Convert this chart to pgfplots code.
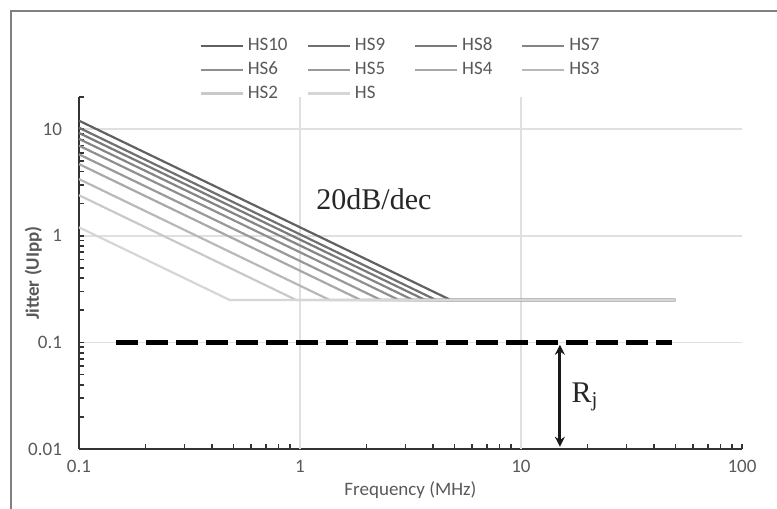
\documentclass[border=0pt]{standalone}
\usepackage{fontspec}
\setmainfont{Carlito}
\newfontfamily\seriffont{Liberation Serif}
\usepackage{pgfplots}
\pgfplotsset{compat=1.18}
\usetikzlibrary{arrows.meta}
\definecolor{labelgray}{RGB}{89,89,89}
\newcommand{\lent}[1]{\makebox[22pt][l]{#1}}
\begin{document}
\begin{tikzpicture}[font=\fontsize{9.5}{11}\selectfont]
\useasboundingbox (-39.5pt,-30pt) rectangle (349pt,224.5pt);
\begin{axis}[
  scale only axis,
  width=331.5pt, height=176pt,
  xmode=log, ymode=log,
  xmin=0.1, xmax=100, ymin=0.01, ymax=20,
  axis x line*=bottom, axis y line*=left,
  axis line style={black!80, line width=1pt, -},
  xtick={0.1,1,10,100}, xticklabels={0.1,1,10,100},
  ytick={0.01,0.1,1,10}, yticklabels={0.01,0.1,1,10},
  minor xtick={0.2,0.3,0.4,0.5,0.6,0.7,0.8,0.9,2,3,4,5,6,7,8,9,20,30,40,50,60,70,80,90},
  minor ytick={0.02,0.03,0.04,0.05,0.06,0.07,0.08,0.09,0.2,0.3,0.4,0.5,0.6,0.7,0.8,0.9,2,3,4,5,6,7,8,9,20},
  extra x ticks={1,10}, extra x tick labels={},
  extra x tick style={grid=major, major tick length=0pt},
  ymajorgrids,
  grid style={black!12, line width=0.8pt},
  tick align=inside,
  major tick length=2.5pt, minor tick length=2.5pt,
  tick style={black!80, line width=0.8pt},
  ticklabel style={text=labelgray},
  xticklabel style={yshift=-2pt},
  yticklabel style={xshift=-5pt},
  xlabel={Frequency (MHz)},
  ylabel={\bfseries Jitter (UIpp)},
  xlabel style={at={(axis description cs:0.5,-0.116)}, anchor=center, text=labelgray},
  ylabel style={at={(axis description cs:-0.069,0.5)}, anchor=center, text=labelgray},
  legend columns=4,
  legend style={at={(axis description cs:0.497,1.078)}, anchor=center,
    draw=none, fill=none, text=labelgray,
    /tikz/every even column/.append style={column sep=5.5pt}},
  legend image code/.code={\draw[#1] (0pt,0pt) -- (21pt,0pt);},
]
\addplot[black!62, line width=1.1pt] coordinates {(0.1,12) (4.8,0.25) (50,0.25)};
\addlegendentry{\lent{HS10}}
\addplot[black!56, line width=1.1pt] coordinates {(0.1,10.3) (4.12,0.25) (50,0.25)};
\addlegendentry{\lent{HS9}}
\addplot[black!52, line width=1.1pt] coordinates {(0.1,9.2) (3.68,0.25) (50,0.25)};
\addlegendentry{\lent{HS8}}
\addplot[black!48, line width=1.1pt] coordinates {(0.1,8.1) (3.24,0.25) (50,0.25)};
\addlegendentry{\lent{HS7}}
\addplot[black!44, line width=1.1pt] coordinates {(0.1,7.0) (2.8,0.25) (50,0.25)};
\addlegendentry{\lent{HS6}}
\addplot[black!40, line width=1.1pt] coordinates {(0.1,5.8) (2.32,0.25) (50,0.25)};
\addlegendentry{\lent{HS5}}
\addplot[black!34, line width=1.1pt] coordinates {(0.1,4.7) (1.88,0.25) (50,0.25)};
\addlegendentry{\lent{HS4}}
\addplot[black!28, line width=1.1pt] coordinates {(0.1,3.4) (1.36,0.25) (50,0.25)};
\addlegendentry{\lent{HS3}}
\addplot[black!21, line width=1.1pt] coordinates {(0.1,2.4) (0.96,0.25) (50,0.25)};
\addlegendentry{\lent{HS2}}
\addplot[black!16, line width=1.1pt] coordinates {(0.1,1.2) (0.48,0.25) (50,0.25)};
\addlegendentry{\lent{HS}}
\addplot[black, line width=2.5pt, dash pattern=on 11pt off 4pt, forget plot] coordinates {(0.147,0.1) (48,0.1)};
\draw[black!90, line width=1.5pt, {Stealth[length=5pt,width=5pt]}-{Stealth[length=5pt,width=5pt]}] (axis cs:15,0.0105) -- (axis cs:15,0.095);
\node[font=\seriffont\fontsize{15}{17}\selectfont, text=black!85] at (axis cs:19.5,0.031) {R\textsubscript{j}};
\node[font=\seriffont\fontsize{15}{17}\selectfont, text=black!85] at (axis cs:2.16,2.2) {20dB/dec};
\end{axis}
\draw[black!50, line width=1.2pt] (-34pt,-30pt) -- (-34pt,219pt) -- (349pt,219pt);
\end{tikzpicture}
\end{document}
